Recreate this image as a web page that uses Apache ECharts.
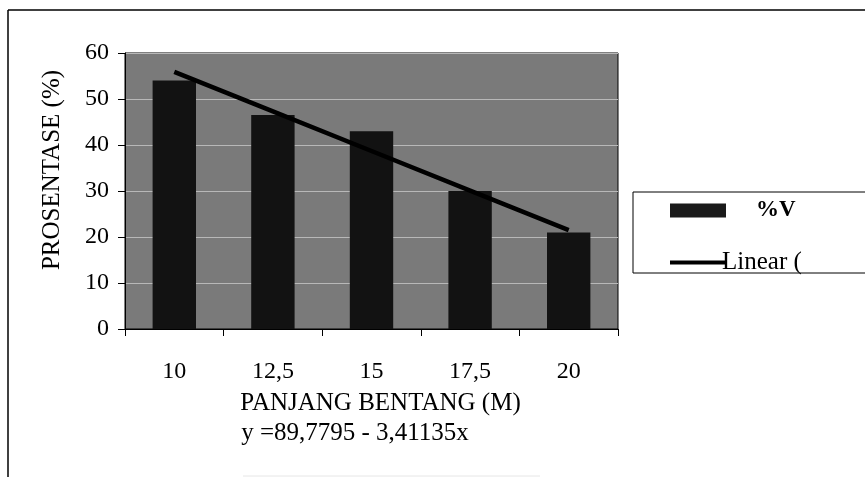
<!DOCTYPE html>
<html>
<head>
<meta charset="utf-8">
<script src="https://cdn.jsdelivr.net/npm/echarts@6/dist/echarts.min.js"></script>
<style>
  html, body { margin: 0; padding: 0; background: #fff; }
  #chart { width: 865px; height: 477px; }
</style>
</head>
<body>
<div id="chart"></div>
<script>
(function () {
    var categories = ['10', '12,5', '15', '17,5', '20'];
    var percentV = [54, 46.5, 43, 30, 21];
    // trendline
    var trendLine = [55.9, 47.3, 38.7, 30.1, 21.5];
    var yTicks = [0, 10, 20, 30, 40, 50, 60];
    var equationText = 'y =89,7795 - 3,41135x';

    var serif = '"Liberation Serif", "DejaVu Serif", serif';

    var myChart = echarts.init(document.getElementById('chart'));

    var option = {
        backgroundColor: '#ffffff',
        animation: false,
        grid: {
            left: 125, top: 53, right: 247, bottom: 148,
            show: true,
            backgroundColor: '#7a7a7a',
            borderColor: '#000',
            borderWidth: 1
        },
        xAxis: {
            type: 'category',
            data: categories,
            boundaryGap: true,
            name: 'PANJANG BENTANG (M)',
            nameLocation: 'middle',
            nameGap: 62,
            nameTextStyle: { fontFamily: serif, fontSize: 25, color: '#000', padding: [0, 0, 0, 18] },
            axisLine: { lineStyle: { color: '#000', width: 1 } },
            axisTick: { show: true, length: 7, alignWithLabel: false, lineStyle: { color: '#000' } },
            axisLabel: { margin: 31, fontFamily: serif, fontSize: 24, color: '#000' },
            splitLine: { show: false }
        },
        yAxis: {
            type: 'value',
            min: yTicks[0],
            max: yTicks[yTicks.length - 1],
            interval: 10,
            name: 'PROSENTASE (%)',
            nameLocation: 'middle',
            nameGap: 60,
            nameTextStyle: { fontFamily: serif, fontSize: 25, color: '#000', padding: [0, 0, 0, 42] },
            axisLine: { show: true, lineStyle: { color: '#000', width: 1 } },
            axisTick: { show: true, length: 7, lineStyle: { color: '#000' } },
            axisLabel: { margin: 16, fontFamily: serif, fontSize: 24, color: '#000' },
            splitLine: { show: true, lineStyle: { color: '#b8b8b8', width: 1 } }
        },
        legend: [{
            data: [{ name: '%V', textStyle: { padding: [0, 0, 0, 25] } }],
            left: 665, top: 194,
            itemWidth: 56, itemHeight: 14,
            icon: 'rect',
            itemStyle: { color: '#1a1a1a' },
            textStyle: { fontFamily: serif, fontSize: 23, fontWeight: 'bold', color: '#000' }
        }, {
            data: [{ name: 'Linear (', icon: 'rect', textStyle: { padding: [0, 0, 0, -8] } }],
            left: 665, top: 245,
            itemWidth: 55, itemHeight: 4,
            itemStyle: { color: '#000' },
            textStyle: { fontFamily: serif, fontSize: 25, color: '#000' }
        }],
        graphic: [
            // outer frame (top and left edges only visible)
            { type: 'line', shape: { x1: 8, y1: 10, x2: 865, y2: 10 }, style: { stroke: '#000', lineWidth: 1.5 } },
            { type: 'line', shape: { x1: 8, y1: 10, x2: 8, y2: 477 }, style: { stroke: '#000', lineWidth: 1.5 } },
            { type: 'line', shape: { x1: 243, y1: 476, x2: 540, y2: 476 }, style: { stroke: '#e6e6e6', lineWidth: 1 } },
            // legend box
            { type: 'rect', shape: { x: 633, y: 192, width: 240, height: 81 }, style: { fill: 'none', stroke: '#000', lineWidth: 1 }, z: 0 },
            {
                type: 'text',
                style: {
                    text: equationText, x: 355, y: 433,
                    align: 'center', verticalAlign: 'middle',
                    fontFamily: serif, fontSize: 25, fill: '#000'
                }
            }
        ],
        series: [{
            name: '%V',
            type: 'bar',
            data: percentV,
            barWidth: '44%',
            itemStyle: { color: '#121212' }
        }, {
            name: 'Linear (',
            type: 'line',
            data: trendLine,
            symbol: 'none',
            lineStyle: { color: '#000', width: 4.5 },
            itemStyle: { color: '#000' },
            z: 3
        }]
    };

    myChart.setOption(option);
})();
</script>
</body>
</html>
